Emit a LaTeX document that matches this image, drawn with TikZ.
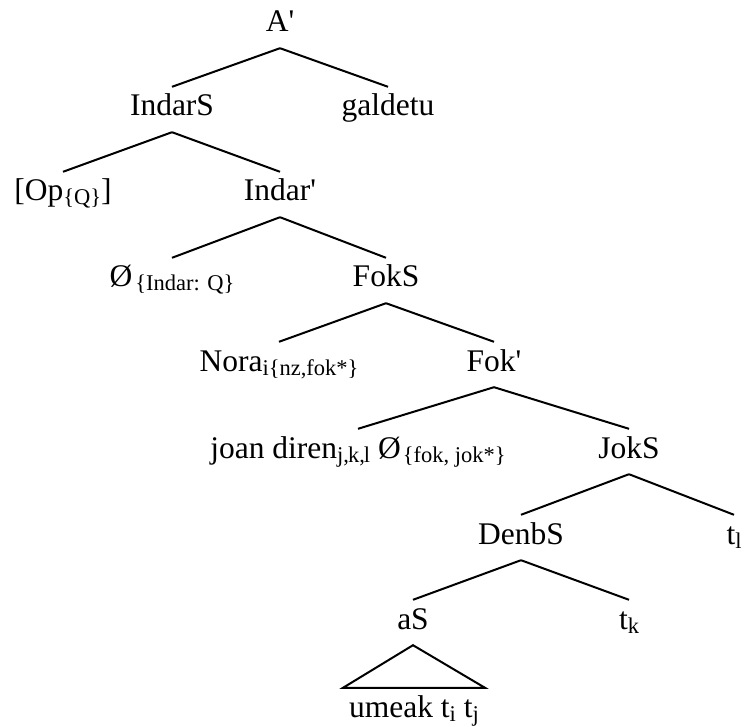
\documentclass[tikz,border=0pt]{standalone}
\usepackage{fontspec}
\setmainfont{Liberation Serif}
% lowered, smaller index text
\newcommand\lo[1]{\raisebox{-4pt}{\fontsize{22.5}{22.5}\selectfont #1}}
\newcommand\pr{\textquotesingle}
\begin{document}
\begin{tikzpicture}[x=1pt,y=-1pt,
  lbl/.style={anchor=base, font=\fontsize{31.5}{31.5}\selectfont,
    text height=21pt, text depth=8pt, inner xsep=0pt, inner ysep=8pt},
  branch/.style={line width=2pt}]
\useasboundingbox (0,0) rectangle (744,727);

% labels, placed by their baselines
\node[lbl] (ap)     at (280,32)  {A\pr};
\node[lbl] (indars) at (172,116) {IndarS};
\node[lbl] (galdetu) at (388,116) {galdetu};
\node[lbl] (op)     at (63,201)  {[Op\lo{\{Q\}}]};
\node[lbl] (indarb) at (280,201) {Indar\pr};
\node[lbl] (nullq)  at (172,287) {Ø\hspace{3pt}\lo{\{Indar: Q\}}};
\node[lbl] (foks)   at (386,287) {FokS};
\node[lbl] (nora)   at (279,371) {Nora\lo{i\{nz,fok*\}}};
\node[lbl] (fokb)   at (494,371) {Fok\pr};
\node[lbl] (joan)   at (358,458) {joan diren\lo{j,\kern-1pt k,\kern-1pt l} Ø\hspace{2pt}\lo{\{fok, jok*\}}};
\node[lbl] (joks)   at (629,458) {JokS};
\node[lbl] (denbs)  at (521,544) {DenbS};
\node[lbl] (tl)     at (734,544) {t\lo{l}};
\node[lbl] (as)     at (413,629) {aS};
\node[lbl] (tk)     at (629,629) {t\lo{k}};
\node[lbl] (umeak)  at (414,717) {umeak t\lo{i} t\lo{j}};

% branches
\draw[branch] (ap.south) -- (indars.north);
\draw[branch] (ap.south) -- (galdetu.north);
\draw[branch] (indars.south) -- (op.north);
\draw[branch] (indars.south) -- (indarb.north);
\draw[branch] (indarb.south) -- (nullq.north);
\draw[branch] (indarb.south) -- (foks.north);
\draw[branch] (foks.south) -- (nora.north);
\draw[branch] (foks.south) -- (fokb.north);
\draw[branch] (fokb.south) -- (joan.north);
\draw[branch] (fokb.south) -- (joks.north);
\draw[branch] (joks.south) -- (denbs.north);
\draw[branch] (joks.south) -- (tl.north);
\draw[branch] (denbs.south) -- (as.north);
\draw[branch] (denbs.south) -- (tk.north);

% roof over the unanalysed phrase
\draw[branch, line join=miter] (as.south) -- ([xshift=-71pt]umeak.north)
  -- ([xshift=71pt]umeak.north) -- cycle;
\end{tikzpicture}
\end{document}
